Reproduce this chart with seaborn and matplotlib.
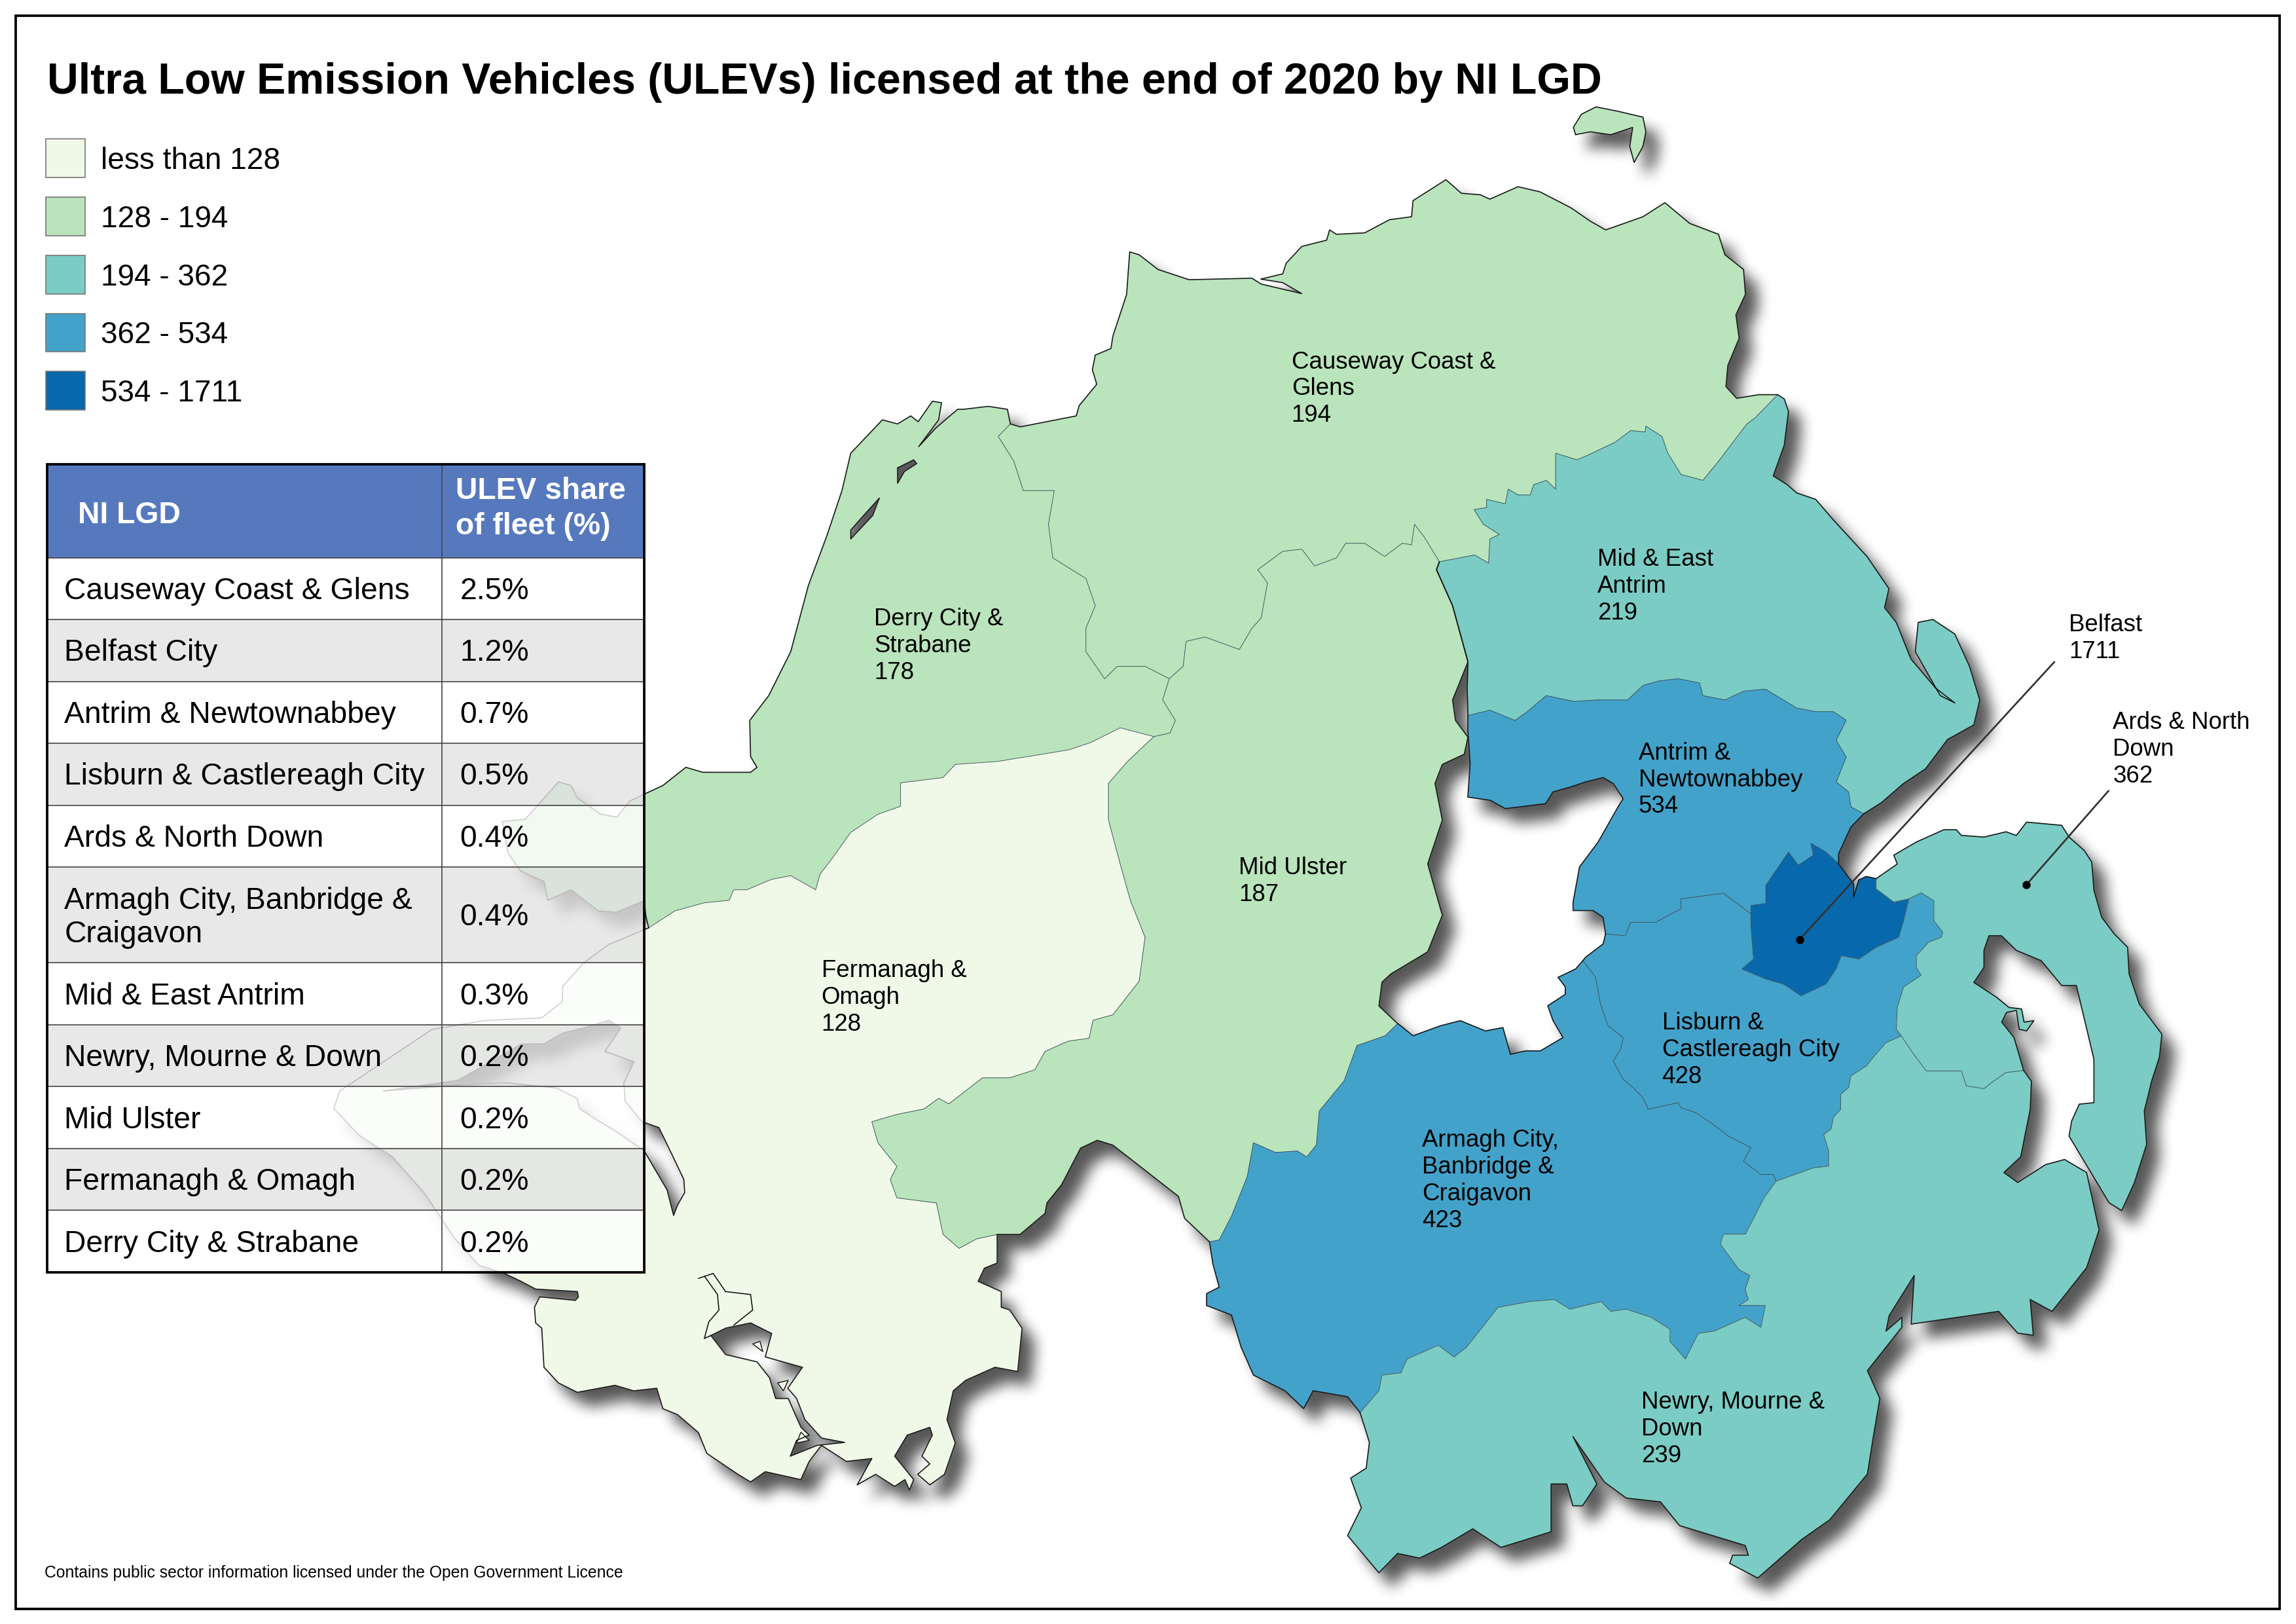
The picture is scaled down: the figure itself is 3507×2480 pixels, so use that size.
import matplotlib
matplotlib.use('Agg')
import matplotlib.pyplot as plt
import numpy as np
import seaborn as sns
from matplotlib.backends.backend_agg import FigureCanvasAgg
from matplotlib.figure import Figure
from matplotlib.patches import PathPatch, Rectangle
from matplotlib.path import Path

# ULEV counts per LGD and legend classes
legend_labels = ['less than 128', '128 - 194', '194 - 362', '362 - 534', '534 - 1711']
class_tops = [128, 194, 362, 534, 1711]
lgd_counts = {'causeway': 194, 'derry': 178, 'fermanagh': 128, 'ulster': 187, 'mid_east': 219,
              'antrim': 534, 'belfast': 1711, 'lisburn': 428, 'armagh': 423, 'newry': 239, 'ards': 362}

map_labels = ['Causeway Coast &\nGlens\n194', 'Derry City &\nStrabane\n178', 'Mid & East\nAntrim\n219',
              'Antrim &\nNewtownabbey\n534', 'Belfast\n1711', 'Ards & North\nDown\n362', 'Mid Ulster\n187',
              'Lisburn &\nCastlereagh City\n428', 'Fermanagh &\nOmagh\n128',
              'Armagh City,\nBanbridge &\nCraigavon\n423', 'Newry, Mourne &\nDown\n239']
label_x = [882, 597, 1091, 1119, 1413, 1443, 846, 1135, 561, 971, 1121]
label_y = [264, 439.5, 399, 531, 434.5, 510, 600.5, 715.5, 679.5, 804.5, 974.5]

table_names = ['Causeway Coast & Glens', 'Belfast City', 'Antrim & Newtownabbey', 'Lisburn & Castlereagh City',
               'Ards & North Down', 'Armagh City, Banbridge &\nCraigavon', 'Mid & East Antrim',
               'Newry, Mourne & Down', 'Mid Ulster', 'Fermanagh & Omagh', 'Derry City & Strabane']
table_share = ['2.5%', '1.2%', '0.7%', '0.5%', '0.4%', '0.4%', '0.3%', '0.2%', '0.2%', '0.2%', '0.2%']

# map outlines, one list per stretch of coast or border
coast_derry = [(443, 633.6), (441, 625), (440, 615), (421, 623), (408.5, 622), (390, 607.6), (374, 614.8), (371.5, 602),
               (355.8, 595), (347, 582.7), (343, 561), (358.6, 559.5), (381.4, 534), (390, 536.4), (394.3, 545), (410, 556),
               (421.4, 558), (430, 547), (441.3, 541.7), (452.7, 536.4), (468.4, 524), (480, 527.4), (498.4, 527.4),
               (512.6, 527.4), (517, 524), (512.6, 516.7), (512, 492), (525, 475), (540, 445), (552, 400), (565, 365),
               (575, 335), (581, 309.5), (602.6, 286.7), (613, 289.5), (622, 284), (627, 288), (636.8, 274), (643, 275),
               (641, 286.7), (627.4, 305), (639, 292.4), (654, 279.5), (658, 279.5), (675, 277.5), (688, 279.5), (690, 289.5)]
coast_cause = [(690, 289.5), (696.7, 291.5), (735, 284), (737, 277), (749, 262.4), (746, 252.5), (748, 242.5), (758.7, 238),
               (760, 229.6), (769.4, 201), (771.5, 172), (778, 174), (790.8, 184), (812, 191), (855, 190), (861.3, 194),
               (889, 200.5), (876, 193), (861, 190.6), (876, 187), (878.4, 179.7), (889, 168.3), (906, 164), (908, 157),
               (912.7, 160), (932, 159), (949, 150), (964, 148), (965, 137), (987.5, 122.7), (998, 132), (1011, 133),
               (1017.5, 136), (1036.7, 127.5), (1051.7, 131), (1073, 142), (1086, 151), (1096.6, 157), (1122, 148),
               (1137, 138.4), (1154, 152.6), (1173.6, 160), (1178, 174), (1190.7, 184), (1192, 201), (1185.5, 215),
               (1187.7, 231), (1180, 249.6), (1178.7, 264), (1186, 272), (1201, 269.5), (1214, 269.5)]
coast_mid = [(1214, 269.5), (1218.5, 272.4), (1221.4, 281), (1218.5, 304), (1211, 325), (1220.6, 331), (1227, 336.6),
             (1240, 341), (1252, 355), (1275, 380), (1290, 402), (1287, 415), (1295, 425), (1305, 450), (1322, 470),
             (1335, 480), (1325, 475), (1308, 445), (1310, 425), (1320, 423), (1335, 433), (1345, 455), (1352, 478),
             (1348, 495), (1330, 505), (1315, 525), (1300, 535), (1285, 548), (1272.8, 555.7)]
coast_mid_w = [(1002.5, 488.6), (1002, 470), (1002.5, 452), (992, 413.6), (981, 389), (983, 383.6)]
coast_antrim_e = [(1272.8, 555.7), (1264, 564.8), (1255.6, 583), (1255.6, 590)]
coast_antrim_w = [(1096.5, 637.8), (1094.8, 626.4), (1088, 621.8), (1074.3, 621.8), (1074.3, 616), (1078.7, 592),
                  (1091.4, 575), (1105, 551), (1108.5, 545.4), (1101.7, 535), (1094.8, 531), (1082.8, 534), (1072.6, 537.4),
                  (1060.6, 540.8), (1055.5, 548.8), (1028, 552.2), (1017.8, 546.5), (1002.4, 544.3), (1004, 521.5),
                  (1002.4, 498.6), (1002.5, 488.6)]
coast_belfast = [(1255.6, 590), (1265.9, 603.6), (1265.9, 612.7), (1269.3, 601), (1274.5, 598.5), (1281.3, 600)]
coast_lisburn = [(1081, 656), (1082.8, 653.7), (1094.8, 644.6), (1096.5, 637.8)]
coast_ards = [(1281.3, 600), (1295.7, 590), (1293.3, 584), (1308.7, 575), (1327.5, 566.6), (1336, 566.6), (1339.5, 570.5),
              (1354.9, 571.6), (1370, 568), (1377, 570.5), (1384, 561.4), (1408, 563.6), (1413, 571.6), (1423.4, 580.8),
              (1428.5, 588.7), (1430, 608), (1435.3, 626.4), (1443.9, 637.8), (1453, 646.9), (1454, 665), (1461, 685.7),
              (1476.4, 706.2), (1474.7, 722), (1469.5, 738), (1464.4, 758.7), (1466, 781.5), (1457.6, 807.7), (1449, 826.7),
              (1440.4, 821.4), (1413, 775.8), (1414.8, 765.5), (1420, 754), (1430, 753), (1430, 723.3), (1421.6, 688),
              (1418, 673), (1408, 673), (1394, 656), (1377, 649), (1366.9, 639), (1358.3, 639), (1354.9, 649), (1354.9, 660.6),
              (1348, 670.9), (1363.5, 681), (1372, 688), (1380.6, 689), (1382.3, 698), (1389, 697), (1384, 704), (1379, 702.8),
              (1377, 690), (1370.3, 691.4), (1367, 698), (1375.4, 708.5), (1382, 731)]
coast_newry = [(928.8, 964.6), (935.2, 985), (933, 1002.6), (922.4, 1009.4), (929.7, 1029.6), (920.3, 1048.6), (941.7, 1074),
               (954.5, 1060.8), (969.5, 1064), (984.4, 1056.7), (1005.8, 1044), (1025, 1056.7), (1059.3, 1046),
               (1059.3, 1013.4), (1070, 1013.4), (1074.2, 1028.3), (1080.7, 1028.3), (1090.5, 1013.4), (1074.2, 981),
               (1095.6, 1012), (1110.6, 1023), (1134, 1025.6), (1147, 1041.8), (1191.9, 1055.4), (1194, 1062), (1183.3, 1062),
               (1181.2, 1067.6), (1200.4, 1077.6), (1230.4, 1051.3), (1249.6, 1037.8), (1275.3, 1006.6), (1279.6, 979.5),
               (1283.8, 955), (1275.3, 936), (1298.8, 906.4), (1298.8, 899.6), (1288, 909), (1290.2, 898.3), (1307.3, 871),
               (1305.2, 904.2), (1365, 895.5), (1377.9, 910.4), (1388.6, 911.8), (1386.5, 887.4), (1401.4, 895.5),
               (1425, 865.7), (1433.5, 840), (1425, 800.7), (1410, 791.8), (1397, 795.3), (1378, 807.5), (1368.5, 800.7),
               (1380, 790), (1386.5, 757.4), (1387.3, 738.4), (1382, 731)]
coast_armagh_s = [(826, 848), (828.3, 863), (832.6, 879), (824, 883.4), (824, 891.5), (841, 898), (847.6, 920), (856, 939),
                  (877.5, 949.7), (890.3, 961.9), (896.8, 949.7), (920.3, 953.8), (928.8, 964.6)]
coast_armagh_n = [(1081, 656), (1076, 661.7), (1064, 667.4), (1069, 674), (1069, 679), (1057, 686.8), (1060.6, 697),
                  (1067.4, 708.5), (1052, 717.6), (1041.8, 717.6), (1031.5, 720), (1026.4, 701.7), (1014.4, 704), (997.3, 697),
                  (983.6, 700.5), (965, 707.3), (956.6, 700.5), (954.5, 699)]
coast_ulster_e = [(983, 383.6), (981, 389), (992, 413.6), (1002.5, 452), (992, 478), (994, 492), (1002.5, 503.4), (1000, 515),
                  (985, 522), (980, 535), (985, 560), (975, 590), (985, 625), (975, 650), (950, 665), (943.8, 670.7),
                  (941.7, 687), (954.5, 699)]
coast_ulster_s = [(826, 848), (809, 832), (804.8, 817), (760, 782), (749.4, 778.7), (738, 784), (725, 809), (715, 821.5),
                  (713.7, 828.6), (696.6, 843), (681, 843)]
coast_ferm = [(681, 843), (681, 862.5), (672.3, 866), (668, 875), (683.8, 882), (683.8, 892.7), (689.5, 894.5), (698, 907),
              (695, 936.6), (679.5, 933.7), (659.5, 942.6), (651, 949.8), (646.7, 969.4), (652.4, 985.4), (645, 1006.8),
              (635, 1014), (626.7, 1006.8), (635, 999.7), (629.6, 994.4), (636.7, 980), (635, 974.7), (619.6, 980),
              (611, 994.4), (624, 1010.4), (621, 1017.5), (618, 1010.4), (611, 1015), (598, 1006.8), (585.4, 1014),
              (595.4, 996), (578, 998), (561, 987), (552.6, 998), (546.9, 1010.4), (522.6, 1005), (512.6, 1012), (504, 1006.8),
              (482.7, 992.5), (477, 978.3), (462.7, 966), (452.7, 962), (448.5, 948), (432.8, 949.8), (420, 946), (394.3, 950.8),
              (381.4, 944.4), (371.5, 933.7), (370, 907), (365.8, 903.4), (365, 892.7), (368.6, 885.6), (393, 888), (395, 885.6),
              (394.3, 882), (365.8, 880.3), (355.8, 875), (344.4, 869.6), (327, 864), (310, 845), (290, 815), (268, 790),
              (245, 775), (228, 757), (232, 745), (262, 725), (295, 703), (330, 697), (370, 695), (384, 684), (384.3, 673.6),
              (398.6, 657.5), (415.7, 645), (443, 633.6)]

border_derry_cause = [(690, 289.5), (681.7, 298), (692.4, 315), (698.8, 335), (720, 335), (716, 358), (719, 381), (741.6, 395),
                      (748, 413.6), (741.6, 429), (741.6, 445), (754.4, 463.5), (763, 455), (782, 455), (798.5, 463.5)]
border_derry_ulster = [(798.5, 463.5), (794, 478), (802.7, 492), (799, 500.6), (788, 503)]
border_derry_ferm = [(788, 503), (765, 497), (745, 507), (730, 512), (712, 515), (681, 520), (652.4, 522), (644, 531),
                     (615, 534.6), (615, 550.6), (599.6, 556), (581, 568.4), (567, 588), (560, 597), (557, 607.6), (540, 598),
                     (527, 600.5), (510, 607.6), (501, 607.6), (498, 614.8), (481, 616.5), (461, 622), (443, 633.6)]
border_ferm_ulster = [(788, 503), (770, 520), (757, 535), (757, 560), (765, 590), (772, 615), (782, 640), (778, 670), (760, 693),
                      (746.5, 696.7), (743.7, 709), (729.4, 711), (713.7, 718), (706.6, 730.6), (689.5, 736), (671, 736),
                      (648, 753.8), (641, 750), (631, 757.3), (612.5, 761), (595.4, 766), (599.6, 780.5), (612.5, 796.5),
                      (608, 805.4), (612.5, 818), (639.5, 821.5), (644, 842.9), (655, 852.5), (667, 846), (681, 843)]
border_cause_mid = [(1214, 269.5), (1199, 285), (1193, 289.5), (1173.6, 315), (1163, 328), (1148, 324), (1139, 309.5),
                    (1135, 298), (1124, 291), (1123.5, 295), (1113.7, 294), (1103, 302), (1084, 311), (1077, 314),
                    (1062.4, 309.5), (1062.4, 334), (1056, 328), (1047.4, 331), (1045, 338), (1036.7, 338), (1030, 334),
                    (1028, 344), (1015.3, 341), (1015.3, 346.6), (1006.7, 348), (1013, 358), (1024, 365), (1017.5, 368),
                    (1016.6, 384.5), (1007, 379), (983, 383.6)]
border_cause_ulster = [(983, 383.6), (972.5, 366.5), (966, 358), (964, 372), (957.6, 371), (945.6, 380), (932, 371), (919, 371),
                       (912.7, 381), (897.7, 386.5), (889, 375), (876, 376.5), (859, 389), (865.6, 398), (861.3, 422), (855, 429),
                       (846.4, 443.5), (822.9, 435), (810, 438), (808, 455), (798.5, 463.5)]
border_mid_antrim = [(1002.5, 488.6), (1017.5, 485), (1034.6, 492), (1043, 486), (1056, 475), (1075, 479), (1090, 478),
                     (1111.5, 478), (1122.2, 468), (1133, 465), (1146, 463.5), (1160.7, 466.4), (1162.8, 475), (1178, 478),
                     (1190.7, 472), (1205.7, 470.6), (1227, 483.5), (1240, 486), (1252, 486), (1260.8, 491.8), (1254, 505.5),
                     (1260.8, 517), (1254, 534), (1262.5, 540.8), (1264, 551), (1272.8, 555.7)]
border_antrim_belfast = [(1255.6, 590), (1247, 582), (1236.8, 576), (1238.5, 584), (1228, 591), (1221.4, 582), (1216, 590),
                         (1206, 604.7), (1206, 617), (1195.8, 618.4), (1195.8, 624)]
border_antrim_lisburn = [(1195.8, 624), (1177, 610), (1148, 613.8), (1148, 620.7), (1130.7, 629.8), (1113.6, 629.8), (1110, 639),
                         (1096.5, 637.8)]
border_belfast_lisburn = [(1195.8, 624), (1195.8, 633), (1197.5, 654.9), (1189.6, 661.7), (1206, 668.6), (1218, 672), (1230, 680),
                          (1247, 672), (1253.9, 661.7), (1257.4, 652.6), (1269.3, 654.9), (1281.3, 646.9), (1296.7, 640),
                          (1300, 628.7), (1303.6, 613.8)]
border_belfast_ards = [(1281.3, 600), (1281.3, 607), (1293.3, 616), (1303.6, 613.8)]
border_lisburn_ards = [(1303.6, 613.8), (1312, 609.7), (1320.7, 615), (1320.7, 628.7), (1326.8, 636.6), (1325.8, 640), (1317, 643.5),
                       (1308.7, 652.6), (1308.7, 660.6), (1312, 666), (1300, 674), (1295.7, 688), (1295, 702.8), (1298.4, 707.4)]
border_lisburn_newry = [(1298.4, 707.4), (1288, 712), (1281, 720), (1274.5, 728), (1264, 734.7), (1262.5, 742.7), (1257, 747.3),
                        (1257, 757.5), (1252, 763), (1250.5, 771), (1245.4, 774.7), (1248.8, 786), (1248.8, 796.3), (1238.5, 797.5),
                        (1212.9, 806.6)]
border_lisburn_armagh = [(1212.9, 806.6), (1211, 802), (1202.6, 802), (1190.6, 793), (1195.8, 783.8), (1180.4, 775.8), (1168.4, 766.7),
                         (1158, 759.8), (1147.9, 756.4), (1146, 753), (1125.6, 757.5), (1122, 749.6), (1115.3, 742.7), (1108.5, 737),
                         (1101.7, 724.5), (1106.8, 716.5), (1108.5, 708.5), (1098.2, 700.5), (1093, 685.7), (1089.7, 667.4), (1081, 656)]
border_ards_newry = [(1382, 731), (1370, 732.4), (1360, 739.3), (1355, 743.4), (1342.9, 741.6), (1339.5, 731.3), (1325.8, 731.3),
                     (1315.5, 731.3), (1307, 720), (1298.4, 707.4)]
border_armagh_newry = [(1212.9, 806.6), (1204.7, 818), (1192, 842.7), (1177, 842.7), (1174.8, 849.5), (1187.6, 867), (1195, 871),
                       (1191.8, 880.6), (1194, 887.4), (1187.6, 891.5), (1205.6, 891.5), (1202.5, 906.4), (1191.8, 899.6),
                       (1170.5, 909), (1159.8, 910.5), (1151, 928), (1140.5, 916), (1140.5, 907.7), (1127.7, 899.6), (1110.6, 894),
                       (1100, 895.5), (1093.5, 888.8), (1072.1, 894), (1061.4, 887.4), (1044.3, 888.8), (1022.9, 892.8),
                       (1014.4, 903.7), (1001.5, 920), (993, 926.7), (982.3, 918.6), (961, 928), (956.6, 937.5), (943.8, 939),
                       (941.7, 949.7), (928.8, 964.6)]
border_ulster_armagh = [(826, 848), (832.6, 846.8), (841, 830.5), (851.8, 803.4), (856, 780.4), (871, 787), (886, 786), (892.5, 790),
                        (899, 781.8), (901, 758.7), (918, 738), (926.7, 714), (946, 707.3), (954.5, 699)]

rathlin = [(1074.5, 87), (1080, 78), (1090, 73), (1105, 76), (1122, 80), (1124, 90), (1122, 100), (1116, 111), (1113, 100),
           (1115, 87), (1100, 92), (1086, 90), (1076, 92)]
lough_erne_lower = [(262, 745), (313, 737.7), (356, 713), (371.5, 712.8), (384, 705.6), (398.6, 702), (415.7, 696.7), (424, 702),
                    (413, 718), (433, 725), (426, 739.5), (427, 752), (438.5, 766), (450, 770), (458.5, 787.6), (467, 805.4),
                    (467.6, 814.3), (462.7, 823), (460, 830), (455.6, 812.6), (447, 798), (440, 786), (421.4, 773), (407, 764.5),
                    (395.7, 757), (394, 750), (380, 743), (347, 739.5), (313, 741)]
lough_erne_upper = [(485.5, 912), (495.5, 907), (512.6, 903.4), (527, 910.6), (522.6, 926.6), (548, 933.7), (538, 948), (544, 955),
                    (549.7, 969.4), (561, 982), (576.8, 985), (558, 987), (539.7, 994.4), (544, 983.6), (552.6, 980), (547, 974.7),
                    (538.3, 955), (529.7, 955), (525.5, 940.8), (517, 930), (495.5, 925)]
foyle_a = [(613, 319.5), (624, 314), (626, 316.6), (617.6, 322), (613, 330)]
foyle_b = [(600.4, 340.3), (596, 352), (581, 368), (581, 362), (589.8, 352)]
erne_islands = [[(514, 917.7), (521, 923), (519, 916)], [(531, 944.4), (538.3, 942.6), (535, 949.8)],
                [(547, 978), (552.6, 983.6), (544, 985.4)]]
erne_shore_a = [(477, 873), (487, 869.6), (495.5, 882), (512.6, 884), (514, 894.6), (501, 905)]
erne_shore_b = [(485.5, 912), (481, 914), (484, 902.8), (491, 894.6), (490, 884), (481, 871.4)]

# leader lines to the labels sitting off the map
belfast_leader_x = [1229, 1403]
belfast_leader_y = [641.5, 452]
ards_leader_x = [1384, 1440]
ards_leader_y = [604, 540]


def rev(seg):
    return seg[::-1]


def area(ring):
    s = 0
    for (x0, y0), (x1, y1) in zip(ring, ring[1:] + ring[:1]):
        s += x0 * y1 - x1 * y0
    return s


def make_path(rings, holes=(), dx=0, dy=0):
    verts, codes = [], []
    for ring, want_pos in [(r, True) for r in rings] + [(h, False) for h in holes]:
        if (area(ring) > 0) != want_pos:
            ring = ring[::-1]
        verts += [(x + dx, y + dy) for x, y in ring] + [(ring[0][0] + dx, ring[0][1] + dy)]
        codes += [Path.MOVETO] + [Path.LINETO] * (len(ring) - 1) + [Path.CLOSEPOLY]
    return Path(verts, codes)


def box_blur(a, r):
    # one box pass along each axis
    for axis in (0, 1):
        c = np.cumsum(np.insert(a, 0, 0, axis=axis), axis=axis)
        n = a.shape[axis]
        hi = np.clip(np.arange(n) + r + 1, 0, n)
        lo = np.clip(np.arange(n) - r, 0, n)
        a = (np.take(c, hi, axis=axis) - np.take(c, lo, axis=axis)) / (2 * r + 1)
    return a


regions = {
    'causeway': coast_cause + border_cause_mid + border_cause_ulster + rev(border_derry_cause),
    'derry': coast_derry + border_derry_cause + border_derry_ulster + border_derry_ferm,
    'fermanagh': rev(border_derry_ferm) + border_ferm_ulster + coast_ferm,
    'ulster': rev(border_cause_ulster) + coast_ulster_e + rev(border_ulster_armagh) + coast_ulster_s
              + rev(border_ferm_ulster) + rev(border_derry_ulster),
    'mid_east': coast_mid + rev(border_mid_antrim) + coast_mid_w + rev(border_cause_mid),
    'antrim': border_mid_antrim + coast_antrim_e + border_antrim_belfast + border_antrim_lisburn + coast_antrim_w,
    'belfast': rev(border_antrim_belfast) + coast_belfast + border_belfast_ards + rev(border_belfast_lisburn),
    'lisburn': rev(border_antrim_lisburn) + border_belfast_lisburn + border_lisburn_ards + border_lisburn_newry
               + border_lisburn_armagh + coast_lisburn,
    'armagh': coast_armagh_s + rev(border_armagh_newry) + border_lisburn_armagh + coast_armagh_n + rev(border_ulster_armagh),
    'newry': rev(border_lisburn_newry) + rev(border_ards_newry) + rev(coast_newry) + rev(border_armagh_newry),
    'ards': coast_ards + border_ards_newry + rev(border_lisburn_ards) + rev(border_belfast_ards),
}
region_holes = {'fermanagh': [lough_erne_lower, lough_erne_upper], 'derry': [foyle_a, foyle_b]}

sns.set_theme(style='white')
plt.rcParams['font.family'] = ['Liberation Sans', 'DejaVu Sans']
palette = sns.color_palette(['#f0f9e8', '#bae4bc', '#7bccc4', '#43a2ca', '#0868ac'])


def class_colour(value):
    for top, col in zip(class_tops, palette):
        if value <= top:
            return col
    return palette[-1]


fig = plt.figure(figsize=(3507 / 300, 2480 / 300), dpi=300)
ax = fig.add_axes([0, 0, 1, 1])
ax.set_xlim(0, 1568)
ax.set_ylim(1109, 0)
ax.set_axis_off()

# soft drop shadow: rasterise the shifted map to a mask and blur it
all_rings = list(regions.values()) + [rathlin]
all_holes = region_holes['fermanagh'] + region_holes['derry']
mask_fig = Figure(figsize=(1568 / 100, 1109 / 100), dpi=100)
mask_canvas = FigureCanvasAgg(mask_fig)
mask_ax = mask_fig.add_axes([0, 0, 1, 1])
mask_ax.set_xlim(0, 1568)
mask_ax.set_ylim(1109, 0)
mask_ax.set_axis_off()
mask_ax.add_patch(PathPatch(make_path(all_rings, all_holes, dx=9, dy=10), fc='black', ec='none'))
mask_canvas.draw()
mask = 1 - np.asarray(mask_canvas.buffer_rgba())[:, :, 0] / 255
for r in (5, 4, 3):
    mask = box_blur(mask, r)
shadow = np.zeros(mask.shape + (4,))
shadow[:, :, 3] = mask * 0.66
ax.imshow(shadow, extent=[0, 1568, 1109, 0], interpolation='bilinear', aspect='auto', zorder=1)
ax.set_xlim(0, 1568)
ax.set_ylim(1109, 0)

# filled districts
for name, ring in regions.items():
    col = class_colour(lgd_counts[name])
    ax.add_patch(PathPatch(make_path([ring], region_holes.get(name, ())), fc=col, ec=col, lw=0.2, zorder=2))
ax.add_patch(PathPatch(make_path([rathlin]), fc=palette[1], ec='#1a1a1a', lw=0.4, zorder=2))
for isl in erne_islands:
    ax.add_patch(PathPatch(make_path([isl]), fc=palette[0], ec='#1a1a1a', lw=0.35, zorder=2))

# inner borders thin, coast darker
inner = [border_derry_cause, border_derry_ulster, border_derry_ferm, border_ferm_ulster, border_cause_mid, border_cause_ulster,
         border_mid_antrim, border_antrim_belfast, border_antrim_lisburn, border_belfast_lisburn, border_belfast_ards,
         border_lisburn_ards, border_lisburn_newry, border_lisburn_armagh, border_ards_newry, border_armagh_newry,
         border_ulster_armagh]
for seg in inner:
    ax.plot(*zip(*seg), color='#3c5058', lw=0.22, zorder=3)
coast = [coast_derry, coast_cause, coast_mid, coast_mid_w, coast_antrim_e, coast_antrim_w, coast_belfast, coast_lisburn, coast_ards,
         coast_newry, coast_armagh_s, coast_armagh_n, coast_ulster_e, coast_ulster_s, coast_ferm, lough_erne_lower + lough_erne_lower[:1],
         lough_erne_upper + lough_erne_upper[:1], foyle_a + foyle_a[:1], foyle_b + foyle_b[:1], erne_shore_a, erne_shore_b]
for seg in coast:
    ax.plot(*zip(*seg), color='#1a1a1a', lw=0.4, zorder=3, solid_joinstyle='round')

# leader lines
ax.plot(belfast_leader_x, belfast_leader_y, color='#333333', lw=0.65, zorder=4)
ax.plot(ards_leader_x, ards_leader_y, color='#333333', lw=0.65, zorder=4)
sns.scatterplot(x=[belfast_leader_x[0], ards_leader_x[0]], y=[belfast_leader_y[0], ards_leader_y[0]], color='black', s=9,
                linewidth=0, zorder=5, ax=ax, legend=False)

for txt, x, y in zip(map_labels, label_x, label_y):
    ax.text(x, y + 1.6, txt, fontsize=8.8, color='black', ha='left', va='center', linespacing=1.22, zorder=6)

# title and frame
ax.text(32, 56.5, 'Ultra Low Emission Vehicles (ULEVs) licensed at the end of 2020 by NI LGD', fontsize=15.9, fontweight='bold',
        color='black', ha='left', va='center', zorder=8)
ax.add_patch(Rectangle((10.8, 10.8), 1546, 1088, fc='none', ec='black', lw=0.9, zorder=9))

# legend
legend_top = [95, 134.7, 174.4, 214, 253.7]
for lab, top, col in zip(legend_labels, legend_top, palette):
    ax.add_patch(Rectangle((31.5, top), 26.5, 26.3, fc=col, ec='#777777', lw=0.4, zorder=7))
    ax.text(69, top + 15, lab, fontsize=11.05, color='black', ha='left', va='center', zorder=7)

# table, see-through like the original so the map ghosts under it
row_edges = [381, 423, 465.5, 507.5, 550, 592, 657.5, 700, 742, 784.5, 826.5, 869]
tbl_left, tbl_mid, tbl_right, tbl_top = 32, 302, 440, 317
ax.add_patch(Rectangle((tbl_left, tbl_top), tbl_right - tbl_left, row_edges[0] - tbl_top, fc='#5679bd', ec='none', zorder=10))
for i, (name, share) in enumerate(zip(table_names, table_share)):
    y0, y1 = row_edges[i], row_edges[i + 1]
    fill = 'white' if i % 2 == 0 else '#e3e3e3'
    ax.add_patch(Rectangle((tbl_left, y0), tbl_right - tbl_left, y1 - y0, fc=fill, ec='none', alpha=0.8, zorder=10))
    ax.plot([tbl_left, tbl_right], [y0, y0], color='#444444', lw=0.4, zorder=11)
    ax.text(44, (y0 + y1) / 2 + 1.8, name, fontsize=11.1, color='black', ha='left', va='center', linespacing=1.2, zorder=12)
    ax.text(314, (y0 + y1) / 2 + 1.8, share, fontsize=11.1, color='black', ha='left', va='center', zorder=12)
ax.plot([tbl_mid, tbl_mid], [tbl_top, row_edges[-1]], color='#444444', lw=0.4, zorder=11)
ax.add_patch(Rectangle((tbl_left, tbl_top), tbl_right - tbl_left, row_edges[-1] - tbl_top, fc='none', ec='black', lw=0.9, zorder=13))
ax.text(53, 352, 'NI LGD', fontsize=11.1, fontweight='bold', color='white', ha='left', va='center', zorder=12)
ax.text(311, 347.5, 'ULEV share\nof fleet (%)', fontsize=11.1, fontweight='bold', color='white', ha='left', va='center',
        linespacing=1.3, zorder=12)

ax.text(30.5, 1074, 'Contains public sector information licensed under the Open Government Licence', fontsize=5.95,
        color='black', ha='left', va='center', zorder=7)

plt.savefig('out.png', dpi=300)
